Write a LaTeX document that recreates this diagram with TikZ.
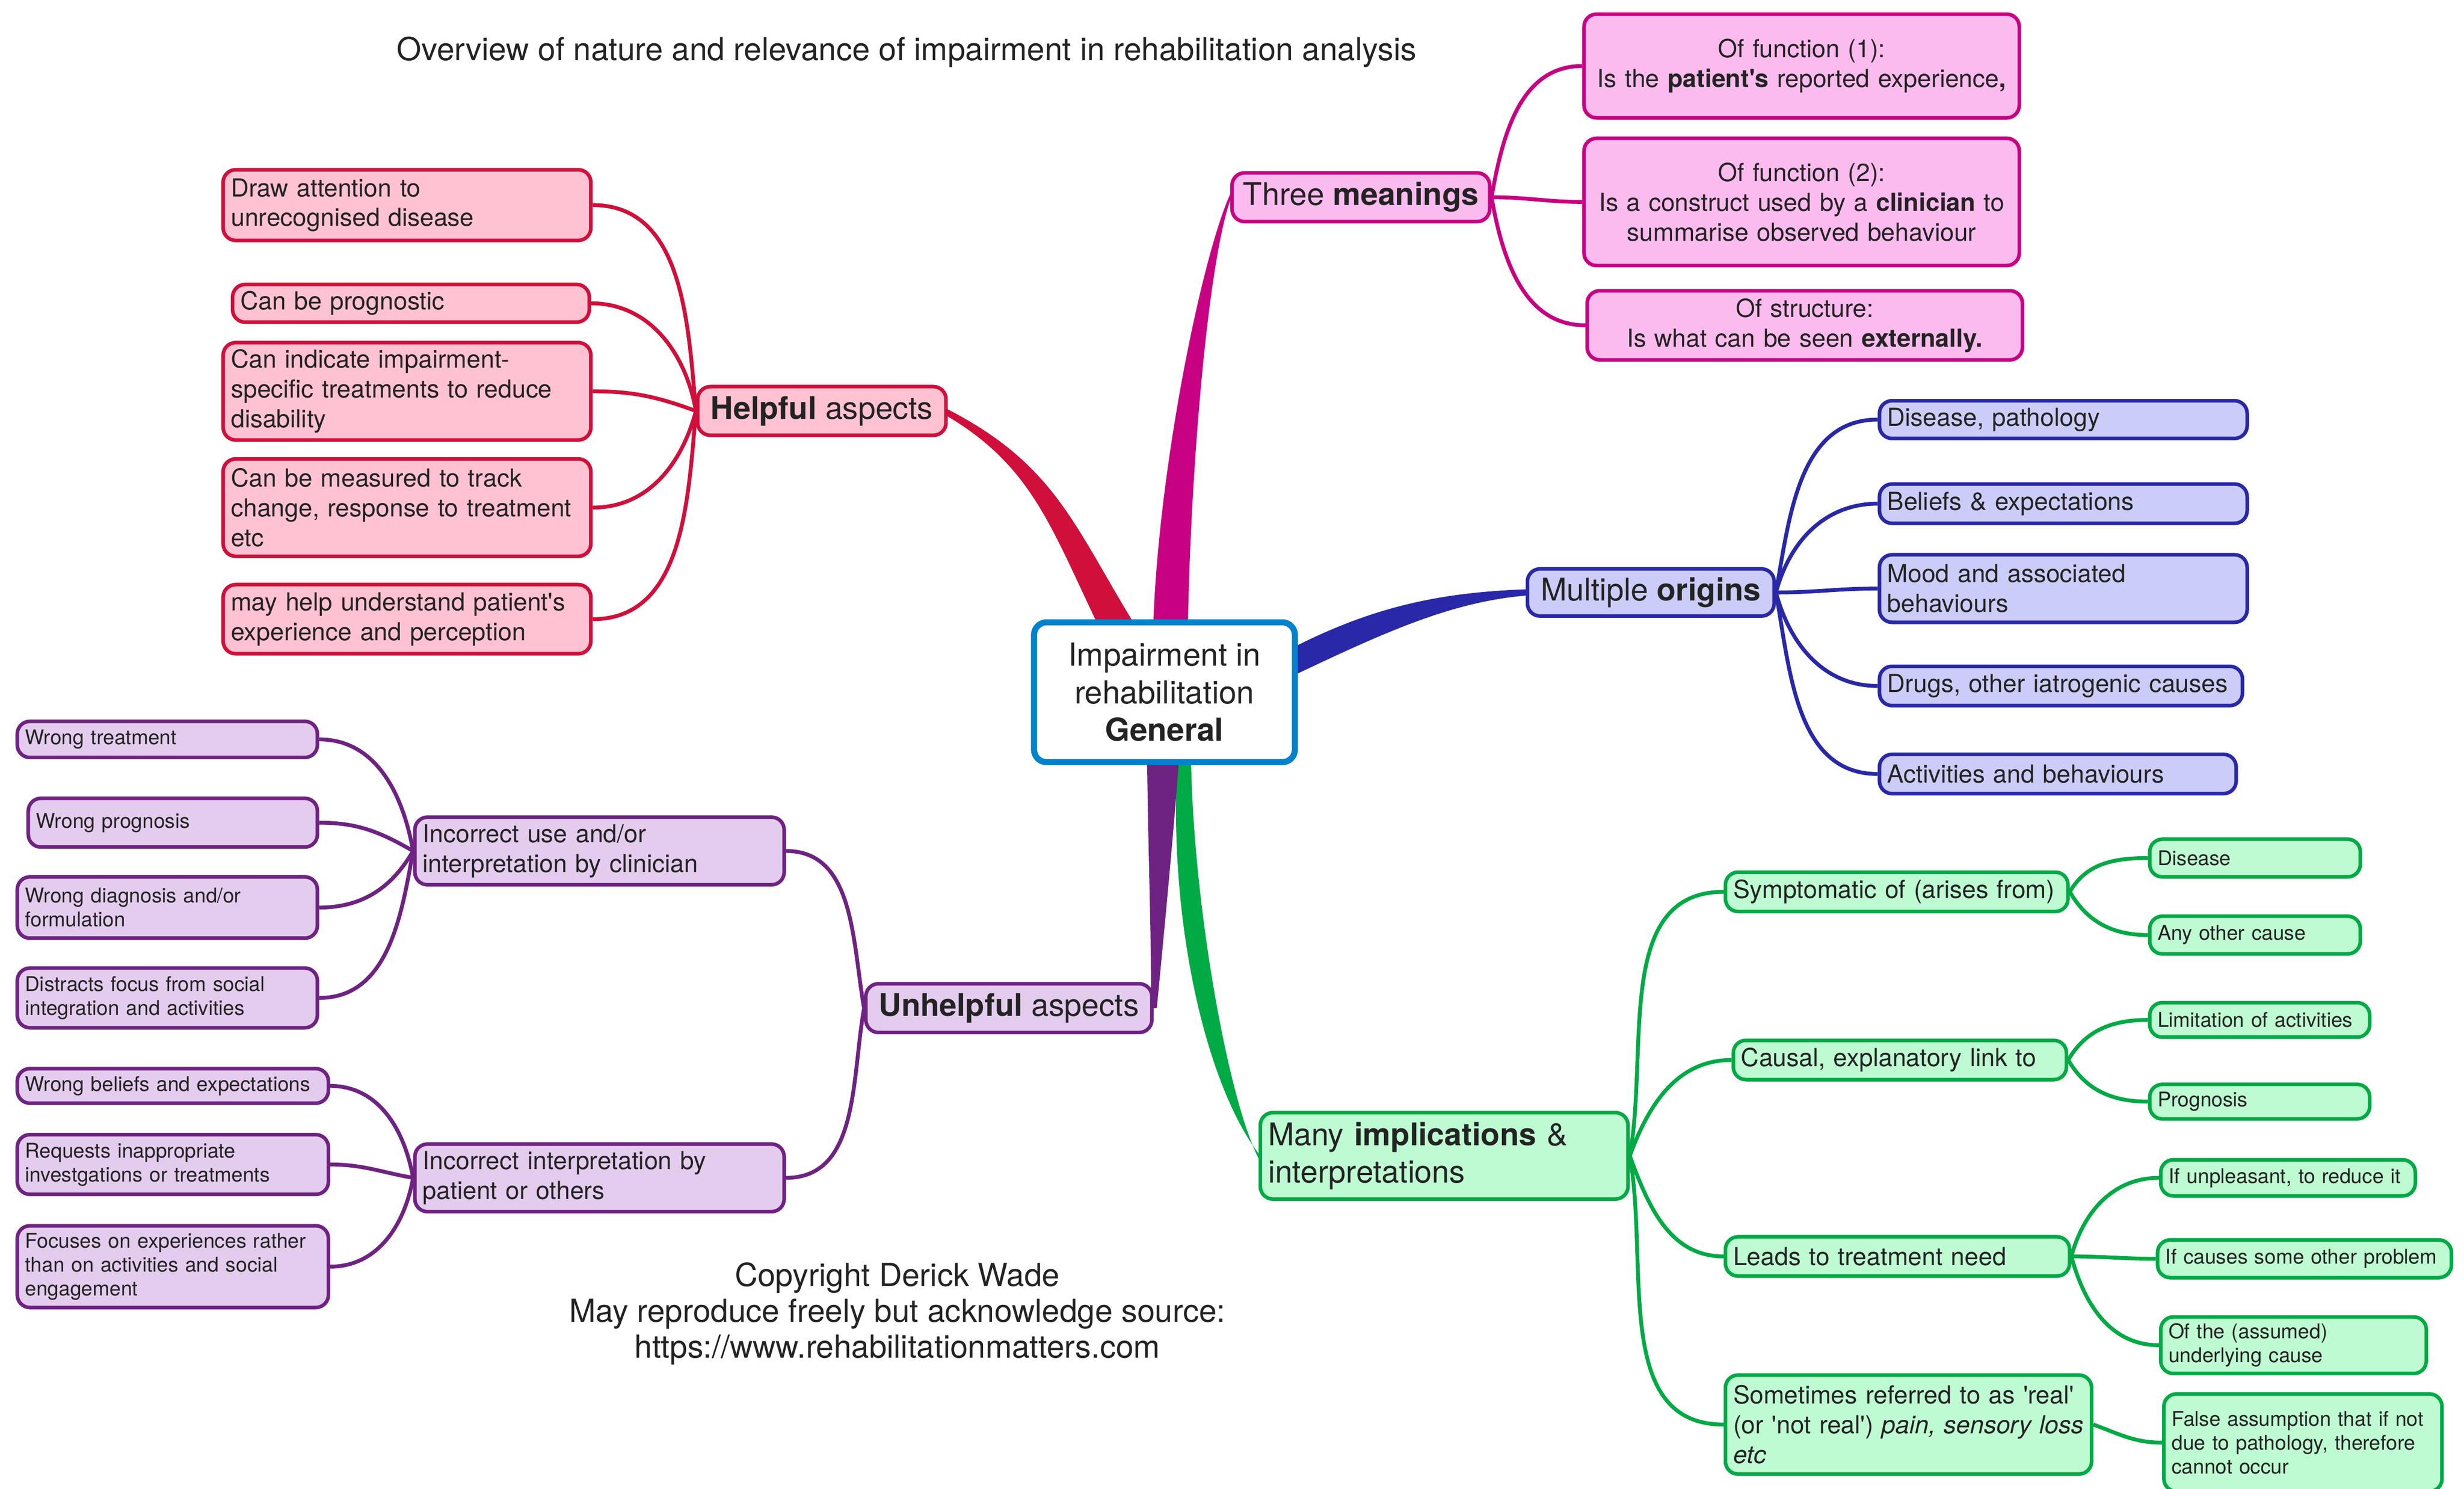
\documentclass[tikz,border=0pt]{standalone}
\usepackage{fontspec}
\setmainfont{TeX Gyre Heros}
\newcommand{\sq}{\textquotesingle}

\definecolor{redl}{HTML}{D0103A}
\definecolor{redf}{HTML}{FFC2D2}
\definecolor{magl}{HTML}{C80082}
\definecolor{magf}{HTML}{FCBBEE}
\definecolor{bluel}{HTML}{2828A8}
\definecolor{bluef}{HTML}{CCCCF8}
\definecolor{grnl}{HTML}{00AA44}
\definecolor{grnf}{HTML}{BEFAD2}
\definecolor{purl}{HTML}{6E2382}
\definecolor{purf}{HTML}{E4CCEE}
\definecolor{ctrl}{HTML}{0082CC}
\definecolor{txt}{HTML}{232323}

\pgfdeclarelayer{bg}
\pgfsetlayers{bg,main}

\tikzset{
  boxbase/.style={rounded corners=1.6mm, line width=1.3pt, inner xsep=1mm, inner ysep=1pt, text=txt},
  lvone/.style={boxbase, font=\fontsize{11.3}{13.6}\selectfont},
  lvtwo/.style={boxbase, align=left, font=\fontsize{9}{10.8}\selectfont},
  lvthree/.style={boxbase, align=left, font=\fontsize{7.35}{8.6}\selectfont},
  redbox/.style={draw=redl, fill=redf},
  magbox/.style={draw=magl, fill=magf},
  bluebox/.style={draw=bluel, fill=bluef},
  grnbox/.style={draw=grnl, fill=grnf},
  purbox/.style={draw=purl, fill=purf},
  link/.style={line width=1.4pt},
}

\begin{document}
\begin{tikzpicture}[x=0.2mm, y=-0.2mm]

\useasboundingbox (0,0) rectangle (1568,947.5);

% centre and texts
\node[boxbase, draw=ctrl, fill=white, line width=2.2pt, align=center, minimum width=33.2mm, minimum height=17.8mm, font=\fontsize{11.5}{13.6}\selectfont] (ctr) at (741,440.5) {Impairment in\\rehabilitation\\\textbf{General}};

\node[text=txt, font=\fontsize{11.5}{13.8}\selectfont] (title) at (577,33) {Overview of nature and relevance of impairment in rehabilitation analysis};

\node[text=txt, align=center, font=\fontsize{11.5}{13}\selectfont] (copy) at (571,836) {Copyright Derick Wade\\May reproduce freely but acknowledge source:\\https://www.rehabilitationmatters.com};

% helpful (red)
\node[lvone, redbox, minimum width=31.6mm, minimum height=6.2mm] (help) at (523,261.5) {\textbf{Helpful} aspects};
\node[lvtwo, redbox, text width=44.8mm, minimum height=9mm] (r1) at (259,130.5) {Draw attention to\\unrecognised disease};
\node[lvtwo, redbox, text width=43.4mm, minimum height=4.8mm] (r2) at (261.5,193) {Can be prognostic};
\node[lvtwo, redbox, text width=44.8mm, minimum height=12.4mm] (r3) at (259,249) {Can indicate impairment-\\specific treatments to reduce\\disability};
\node[lvtwo, redbox, text width=44.8mm, minimum height=12.4mm] (r4) at (259,323) {Can be measured to track\\change, response to treatment\\etc};
\node[lvtwo, redbox, text width=44.8mm, minimum height=8.8mm] (r5) at (259,394) {may help understand patient\sq s\\experience and perception};

% meanings (magenta)
\node[lvone, magbox, minimum width=32.8mm, minimum height=6.2mm] (three) at (866,125.5) {Three \textbf{meanings}};
\node[lvtwo, magbox, align=center, text width=53.4mm, minimum height=13.2mm] (m1) at (1146.5,42) {Of function (1):\\Is the \textbf{patient\sq s} reported experience\textbf{,}};
\node[lvtwo, magbox, align=center, text width=53.4mm, minimum height=16.2mm] (m2) at (1146.5,128.5) {Of function (2):\\Is a construct used by a \textbf{clinician} to\\summarise observed behaviour};
\node[lvtwo, magbox, align=center, text width=53.4mm, minimum height=8.8mm] (m3) at (1148.5,207) {Of structure:\\Is what can be seen \textbf{externally.}};

% origins (blue)
\node[lvone, bluebox, minimum width=31.4mm, minimum height=6mm] (orig) at (1050.5,377) {Multiple \textbf{origins}};
\node[lvtwo, bluebox, text width=44.8mm, minimum height=4.8mm] (b1) at (1313,267) {Disease, pathology};
\node[lvtwo, bluebox, text width=44.8mm, minimum height=5mm] (b2) at (1313,320.5) {Beliefs \& expectations};
\node[lvtwo, bluebox, text width=44.8mm, minimum height=8.6mm] (b3) at (1313,374.5) {Mood and associated\\behaviours};
\node[lvtwo, bluebox, text width=44.2mm, minimum height=5mm] (b4) at (1311.5,436.5) {Drugs, other iatrogenic causes};
\node[lvtwo, bluebox, text width=43.4mm, minimum height=5mm] (b5) at (1309.5,492.5) {Activities and behaviours};

% implications (green)
\node[lvone, grnbox, align=left, text width=44.8mm, minimum height=11mm] (impl) at (919,735.5) {Many \textbf{implications} \&\\interpretations};
\node[lvtwo, grnbox, text width=41.6mm, minimum height=5mm] (g1) at (1207,567.5) {Symptomatic of (arises from)};
\node[lvthree, grnbox, text width=24.8mm, minimum height=4.8mm] (g11) at (1435,546) {Disease};
\node[lvthree, grnbox, text width=24.8mm, minimum height=4.8mm] (g12) at (1435,595) {Any other cause};
\node[lvtwo, grnbox, text width=40.4mm, minimum height=5mm] (g2) at (1209,674.5) {Causal, explanatory link to};
\node[lvthree, grnbox, text width=26mm, minimum height=4.4mm] (g21) at (1438,649) {Limitation of activities};
\node[lvthree, grnbox, text width=26mm, minimum height=4.4mm] (g22) at (1438,701) {Prognosis};
\node[lvtwo, grnbox, text width=41.8mm, minimum height=5mm] (g3) at (1207.5,799.5) {Leads to treatment need};
\node[lvthree, grnbox, text width=30.4mm, minimum height=4.6mm] (g31) at (1456,749.5) {If unpleasant, to reduce it};
\node[lvthree, grnbox, text width=35.4mm, minimum height=4.8mm] (g32) at (1466.5,801) {If causes some other problem};
\node[lvthree, grnbox, text width=31.8mm, minimum height=7.2mm] (g33) at (1459.5,856) {Of the (assumed)\\underlying cause};
\node[lvtwo, grnbox, text width=44.6mm, minimum height=12.6mm] (g4) at (1214.5,906.5) {Sometimes referred to as \sq real\sq\\\mbox{(or \sq not real\sq) \textit{pain, sensory loss}}\\\textit{etc}};
\node[lvthree, grnbox, text width=33.4mm, minimum height=12.4mm] (g41) at (1465.5,918) {False assumption that if not\\due to pathology, therefore\\cannot occur};

% unhelpful (purple)
\node[lvone, purbox, minimum width=36.4mm, minimum height=6.2mm] (unh) at (642,641.5) {\textbf{Unhelpful} aspects};
\node[lvtwo, purbox, text width=45mm, minimum height=8.6mm] (pc) at (381.5,541.5) {Incorrect use and/or\\interpretation by clinician};
\node[lvthree, purbox, text width=36.2mm, minimum height=4.6mm] (p11) at (106.5,470.5) {Wrong treatment};
\node[lvthree, purbox, text width=34.8mm, minimum height=6.2mm] (p12) at (110,523.5) {Wrong prognosis};
\node[lvthree, purbox, text width=36.2mm, minimum height=7.8mm] (p13) at (106.5,577.5) {Wrong diagnosis and/or\\formulation};
\node[lvthree, purbox, text width=36.2mm, minimum height=7.6mm] (p14) at (106.5,635) {Distracts focus from social\\integration and activities};
\node[lvtwo, purbox, text width=45mm, minimum height=8.6mm] (pp) at (381.5,749.5) {Incorrect interpretation by\\patient or others};
\node[lvthree, purbox, text width=37.6mm, minimum height=4.4mm] (p21) at (110,691) {Wrong beliefs and expectations};
\node[lvthree, purbox, text width=37.6mm, minimum height=7.6mm] (p22) at (110,741) {Requests inappropriate\\investgations or treatments};
\node[lvthree, purbox, text width=37.6mm, minimum height=10.4mm] (p23) at (110,806) {Focuses on experiences rather\\than on activities and social\\engagement};

\begin{pgfonlayer}{bg}
% main branches, thick at the centre
\fill[redl] ([shift={(-44,0)}]ctr.north) .. controls +(-29,-61) and +(52,31) .. ([shift={(0,3.5)}]help.east) -- ([shift={(0,-1)}]help.east) .. controls +(67,34.5) and +(-37,-61) .. ([shift={(-21,0)}]ctr.north) -- cycle;
\fill[magl] ([shift={(-7,0)}]ctr.north) .. controls +(4,-100) and +(-18,40) .. ([shift={(0,-2)}]three.west) -- ([shift={(0,2)}]three.west) .. controls +(-14,40) and +(2,-100) .. ([shift={(15,0)}]ctr.north) -- cycle;
\fill[bluel] ([shift={(0,-30)}]ctr.east) .. controls +(51,-25.5) and +(-52,2) .. ([shift={(0,-2)}]orig.west) -- ([shift={(0,2)}]orig.west) .. controls +(-47,4) and +(56,-26.5) .. ([shift={(0,-12)}]ctr.east) -- cycle;
\fill[grnl] ([shift={(8,0)}]ctr.south) .. controls +(-5,103) and +(-33,-44) .. ([shift={(0,-1.5)}]impl.west) -- ([shift={(0,1.5)}]impl.west) .. controls +(-19,-37) and +(2,93) .. ([shift={(17,0)}]ctr.south) -- cycle;
\fill[purl] ([shift={(-11,0)}]ctr.south) .. controls +(1,73) and +(1,-31) .. ([shift={(-2,0)}]unh.east) -- ([shift={(2,0)}]unh.east) .. controls +(3,-31.5) and +(-4,53) .. ([shift={(9,0)}]ctr.south) -- cycle;

% red links
\draw[link, redl] (help.west) to[out=95, in=0] (r1.east);
\draw[link, redl] (help.west) to[out=100, in=0] (r2.east);
\draw[link, redl] (help.west) to[out=160, in=0] (r3.east);
\draw[link, redl] (help.west) to[out=-105, in=0] (r4.east);
\draw[link, redl] (help.west) to[out=-95, in=0] (r5.east);

% magenta links
\draw[link, magl] (three.east) to[out=80, in=180] (m1.west);
\draw[link, magl] (three.east) to[out=0, in=180] (m2.west);
\draw[link, magl] (three.east) to[out=-80, in=180] (m3.west);

% blue links
\draw[link, bluel] (orig.east) to[out=80, in=180] (b1.west);
\draw[link, bluel] (orig.east) to[out=75, in=180] (b2.west);
\draw[link, bluel] (orig.east) to[out=0, in=180] (b3.west);
\draw[link, bluel] (orig.east) to[out=-75, in=180] (b4.west);
\draw[link, bluel] (orig.east) to[out=-80, in=180] (b5.west);

% green links
\draw[link, grnl] (impl.east) to[out=80, in=180] (g1.west);
\draw[link, grnl] (impl.east) to[out=70, in=180] (g2.west);
\draw[link, grnl] (impl.east) to[out=-70, in=180] (g3.west);
\draw[link, grnl] (impl.east) to[out=-80, in=180] (g4.west);
\draw[link, grnl] (g1.east) to[out=60, in=180] (g11.west);
\draw[link, grnl] (g1.east) to[out=-60, in=180] (g12.west);
\draw[link, grnl] (g2.east) to[out=60, in=180] (g21.west);
\draw[link, grnl] (g2.east) to[out=-60, in=180] (g22.west);
\draw[link, grnl] (g3.east) to[out=75, in=180] (g31.west);
\draw[link, grnl] (g3.east) to[out=0, in=180] (g32.west);
\draw[link, grnl] (g3.east) to[out=-75, in=180] (g33.west);
\draw[link, grnl] (g4.east) to[out=-20, in=180] (g41.west);

% purple links
\draw[link, purl] (unh.west) to[out=100, in=0] (pc.east);
\draw[link, purl] (unh.west) to[out=-100, in=0] (pp.east);
\draw[link, purl] (pc.west) to[out=100, in=0] (p11.east);
\draw[link, purl] (pc.west) to[out=150, in=0] (p12.east);
\draw[link, purl] (pc.west) to[out=-120, in=0] (p13.east);
\draw[link, purl] (pc.west) to[out=-100, in=0] (p14.east);
\draw[link, purl] (pp.west) to[out=100, in=0] (p21.east);
\draw[link, purl] (pp.west) to[out=170, in=0] (p22.east);
\draw[link, purl] (pp.west) to[out=-100, in=0] (p23.east);
\end{pgfonlayer}

\end{tikzpicture}
\end{document}
